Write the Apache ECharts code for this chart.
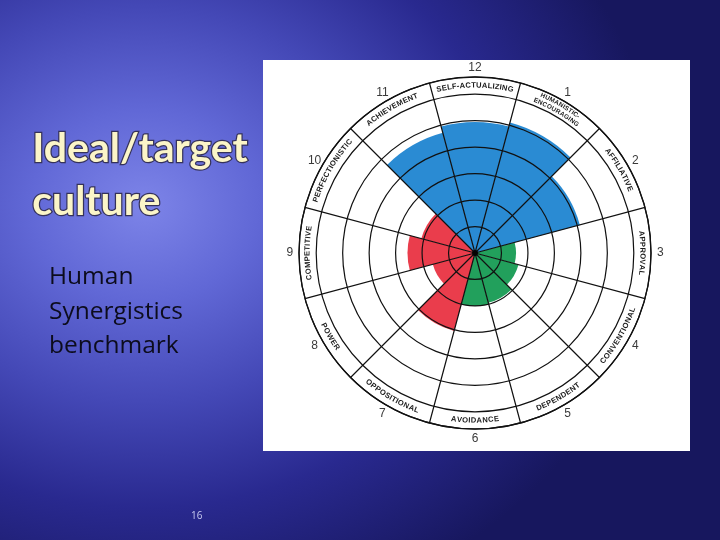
<!DOCTYPE html>
<html>
<head>
<meta charset="utf-8">
<script src="https://cdn.jsdelivr.net/npm/echarts@6/dist/echarts.min.js"></script>
<style>
html, body { margin: 0; padding: 0; }
#main {
    width: 720px;
    height: 540px;
    background: radial-gradient(ellipse 72% 80% at 20% 38%, #7d84e8 0%, #6168d6 22%, #4448b6 46%, #29298f 70%, #17175e 100%);
}
</style>
</head>
<body>
<div id="main"></div>
<script>
// circumplex sectors, clockwise from the top
var sectorNums = ['12', '1', '2', '3', '4', '5', '6', '7', '8', '9', '10', '11'];
var styleNames = ['SELF-ACTUALIZING', 'HUMANISTIC-\nENCOURAGING', 'AFFILIATIVE', 'APPROVAL',
    'CONVENTIONAL', 'DEPENDENT', 'AVOIDANCE', 'OPPOSITIONAL', 'POWER', 'COMPETITIVE',
    'PERFECTIONISTIC', 'ACHIEVEMENT'];
// extent of each sector, in rings (0 = centre, 6 = inner edge of the name band)
var scores = [4.95, 5.1, 4.1, 1.55, 1.7, 1.95, 2.0, 3.05, 1.65, 2.55, 2.1, 4.7];
var clusters = ['constructive', 'constructive', 'constructive', 'passive', 'passive', 'passive',
    'passive', 'aggressive', 'aggressive', 'aggressive', 'aggressive', 'constructive'];

var clusterColor = {
    constructive: '#2a8bd3',
    passive: '#22a05c',
    aggressive: '#ea3d4c'
};

var ringMax = 6.65;     // outer edge of the name band
var nameRing = 6.33;    // middle of the name band
var numRing = 7.0;      // sector numbers outside

var measureCtx = document.createElement('canvas').getContext('2d');
function charWidth(ch, font) {
    measureCtx.font = font;
    return measureCtx.measureText(ch).width;
}

// characters laid along an arc round (cx, cy)
function arcText(cx, cy, r, theta, text, flip, font) {
    var chars = text.split('');
    var ws = chars.map(function(ch) { return charWidth(ch, font) * 1.06; });
    var total = ws.reduce(function(a, b) { return a + b; }, 0);
    var s = -total / 2;
    var out = [];
    chars.forEach(function(ch, k) {
        var mid = s + ws[k] / 2;
        var a = flip ? theta + mid / r : theta - mid / r;
        out.push({
            type: 'text',
            x: cx + r * Math.cos(a),
            y: cy - r * Math.sin(a),
            rotation: flip ? a + Math.PI / 2 : a - Math.PI / 2,
            style: {
                text: ch,
                font: font,
                fill: '#1b1b1b',
                align: 'center',
                verticalAlign: 'middle'
            }
        });
        s += ws[k];
    });
    return out;
}

var chart = echarts.init(document.getElementById('main'));

var option = {
    backgroundColor: 'transparent',
    animation: false,
    graphic: [
        {
            type: 'rect',
            z: -100,
            shape: { x: 263, y: 60, width: 427, height: 391 },
            style: { fill: '#ffffff' }
        },
        {
            type: 'text',
            left: 31,
            top: 122,
            style: {
                text: 'Ideal/target\nculture',
                font: 'bold 41px Lato',
                lineHeight: 53,
                fill: '#fbf5c8',
                stroke: '#35325a',
                lineWidth: 2.5,
                strokeFirst: true
            }
        },
        {
            type: 'text',
            left: 49,
            top: 260,
            style: {
                text: 'Human\nSynergistics\nbenchmark',
                font: '24.5px "Open Sans"',
                lineHeight: 34.5,
                fill: '#0c0c1c'
            }
        },
        {
            type: 'text',
            left: 191,
            top: 511,
            style: {
                text: '16',
                font: '10px "Open Sans"',
                fill: '#c8c9f0'
            }
        }
    ],
    polar: {
        center: [475, 253],
        radius: 176
    },
    angleAxis: {
        type: 'category',
        data: sectorNums,
        startAngle: 105,
        clockwise: true,
        z: 5,
        axisLine: { show: true, lineStyle: { color: '#111', width: 1.3 } },
        axisTick: { show: false },
        axisLabel: { show: false },
        splitLine: { show: true, lineStyle: { color: '#111', width: 1.2 } }
    },
    radiusAxis: {
        type: 'value',
        min: 0,
        max: ringMax,
        interval: 1,
        z: 5,
        axisLine: { show: false },
        axisTick: { show: false },
        axisLabel: { show: false },
        splitLine: { show: true, lineStyle: { color: '#111', width: 1.2 } }
    },
    series: [
        {
            type: 'bar',
            coordinateSystem: 'polar',
            barCategoryGap: '0%',
            data: scores.map(function(v, i) {
                return { value: v, itemStyle: { color: clusterColor[clusters[i]] } };
            }),
            z: 2
        },
        {
            // style names in the band
            type: 'custom',
            coordinateSystem: 'polar',
            z: 6,
            data: styleNames.map(function(n, i) { return [nameRing, i]; }),
            renderItem: function(params, api) {
                var cs = params.coordSys;
                var p = api.coord([api.value(0), api.value(1)]);
                var dx = p[0] - cs.cx, dy = p[1] - cs.cy;
                var r = Math.sqrt(dx * dx + dy * dy);
                var theta = Math.atan2(-dy, dx);
                var flip = Math.sin(theta) < -0.25;
                var lines = styleNames[params.dataIndex].split('\n');
                var font = lines.length > 1 ? 'bold 6.4px "Liberation Sans"' : 'bold 7.6px "Liberation Sans"';
                var lh = 7.2;
                var children = [];
                lines.forEach(function(line, k) {
                    var rr = r + ((lines.length - 1) / 2 - k) * lh;
                    children = children.concat(arcText(cs.cx, cs.cy, rr, theta, line, flip, font));
                });
                return { type: 'group', children: children };
            }
        },
        {
            // sector numbers
            type: 'custom',
            coordinateSystem: 'polar',
            z: 6,
            data: sectorNums.map(function(n, i) { return [numRing, i]; }),
            renderItem: function(params, api) {
                var p = api.coord([api.value(0), api.value(1)]);
                return {
                    type: 'text',
                    x: p[0],
                    y: p[1],
                    style: {
                        text: sectorNums[params.dataIndex],
                        font: '12px "Liberation Sans"',
                        fill: '#3a3a3a',
                        align: 'center',
                        verticalAlign: 'middle'
                    }
                };
            }
        },
        {
            type: 'scatter',
            coordinateSystem: 'polar',
            symbolSize: 6,
            itemStyle: { color: '#000' },
            z: 7,
            data: [[0, 0]]
        }
    ]
};

chart.setOption(option);
</script>
</body>
</html>
